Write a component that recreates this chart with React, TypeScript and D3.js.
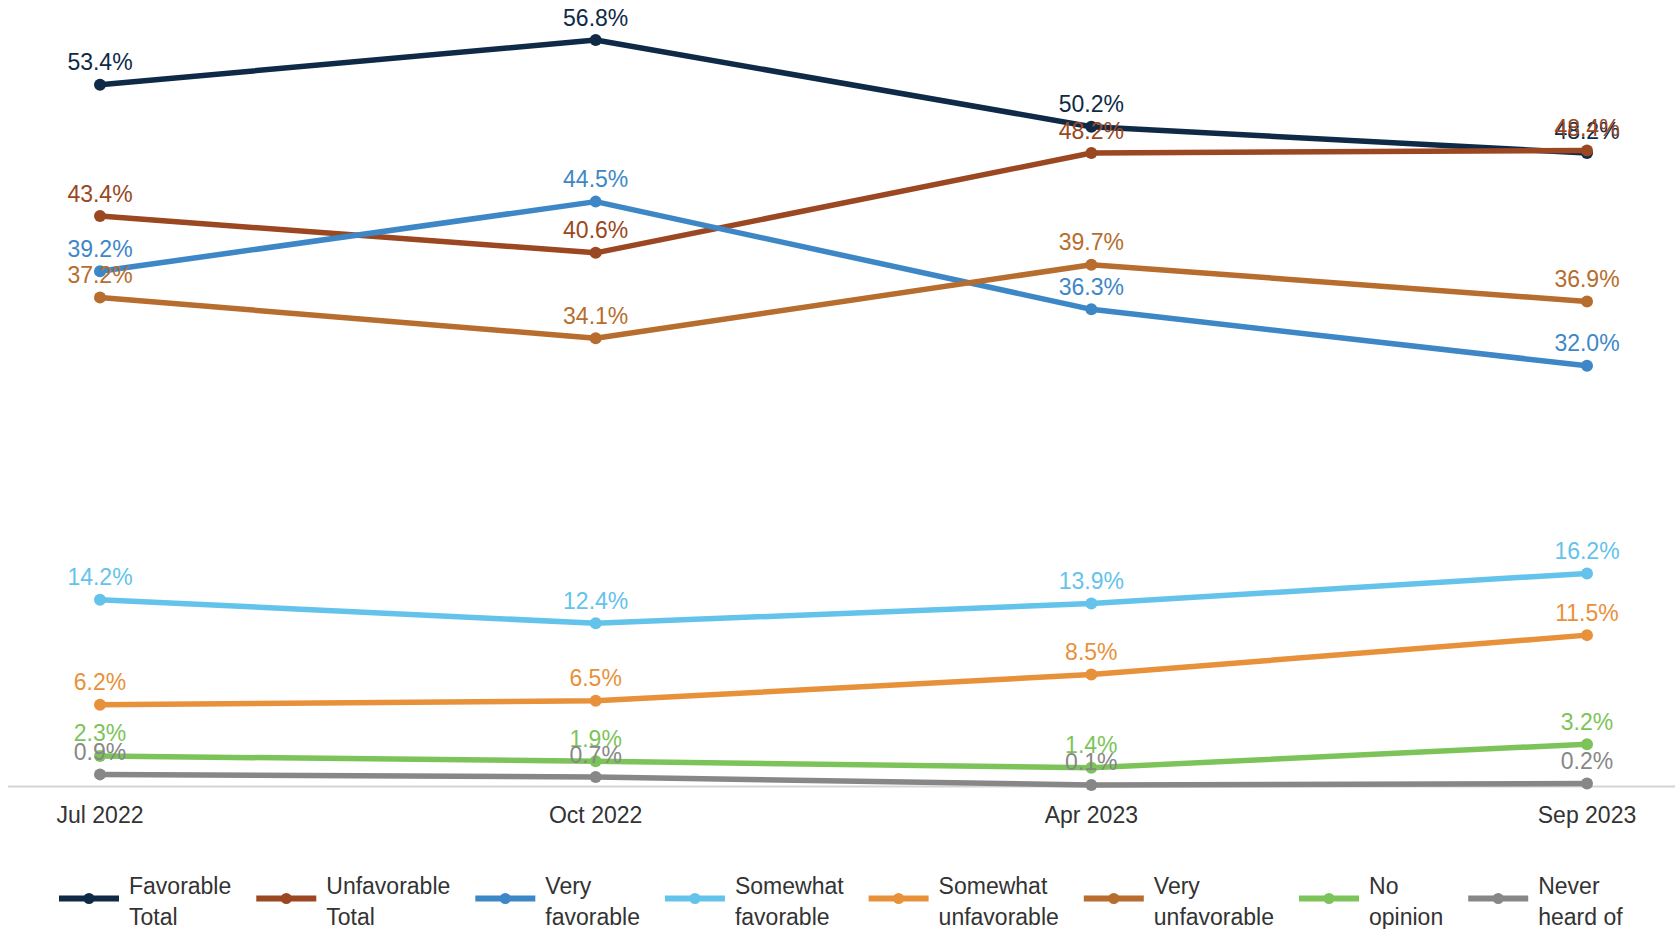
import React, { useEffect, useRef } from 'react';
import * as d3 from 'd3';

const categories = ['Jul 2022', 'Oct 2022', 'Apr 2023', 'Sep 2023'];

const favorableTotal = [53.4, 56.8, 50.2, 48.2];
const unfavorableTotal = [43.4, 40.6, 48.2, 48.4];
const veryFavorable = [39.2, 44.5, 36.3, 32.0];
const somewhatFavorable = [14.2, 12.4, 13.9, 16.2];
const somewhatUnfavorable = [6.2, 6.5, 8.5, 11.5];
const veryUnfavorable = [37.2, 34.1, 39.7, 36.9];
const noOpinion = [2.3, 1.9, 1.4, 3.2];
const neverHeardOf = [0.9, 0.7, 0.1, 0.2];

const seriesNames = [
  ['Favorable', 'Total'],
  ['Unfavorable', 'Total'],
  ['Very', 'favorable'],
  ['Somewhat', 'favorable'],
  ['Somewhat', 'unfavorable'],
  ['Very', 'unfavorable'],
  ['No', 'opinion'],
  ['Never', 'heard of'],
];

const seriesValues = [
  favorableTotal,
  unfavorableTotal,
  veryFavorable,
  somewhatFavorable,
  somewhatUnfavorable,
  veryUnfavorable,
  noOpinion,
  neverHeardOf,
];

const colors = [
  '#0e2a47', // navy
  '#9a4722', // rust
  '#3e87c7', // blue
  '#64c3eb', // light blue
  '#e8913b', // orange
  '#b66d2d', // brown orange
  '#7cc459', // green
  '#878787', // gray
];

const FONT = "'Liberation Sans', Arial, sans-serif";

export default function App() {
  const svgRef = useRef<SVGSVGElement>(null);

  useEffect(() => {
    if (!svgRef.current) return;
    const width = 1675;
    const height = 929;

    const svg = d3.select(svgRef.current);
    svg.selectAll('*').remove();
    svg.attr('width', width).attr('height', height);

    const x = d3.scalePoint<string>().domain(categories).range([100, 1587]);
    const y = d3.scaleLinear().domain([0, 60]).range([786.2, -2]);

    // baseline axis
    svg.append('line')
      .attr('x1', 8)
      .attr('x2', width)
      .attr('y1', 786.5)
      .attr('y2', 786.5)
      .attr('stroke', '#d4d4d4')
      .attr('stroke-width', 2);

    // x labels
    svg.append('g')
      .selectAll('text')
      .data(categories)
      .enter()
      .append('text')
      .attr('x', d => x(d) as number)
      .attr('y', 822.5)
      .attr('text-anchor', 'middle')
      .style('font-family', FONT)
      .style('font-size', '23px')
      .style('fill', '#333333')
      .text(d => d);

    const line = d3.line<number>()
      .x((_, i) => x(categories[i]) as number)
      .y(d => y(d));

    // lines and dots
    seriesValues.forEach((vals, s) => {
      const g = svg.append('g');
      g.append('path')
        .attr('d', line(vals))
        .attr('fill', 'none')
        .attr('stroke', colors[s])
        .attr('stroke-width', 5.5)
        .attr('stroke-linejoin', 'round')
        .attr('stroke-linecap', 'round');
      g.selectAll('circle')
        .data(vals)
        .enter()
        .append('circle')
        .attr('cx', (_, i) => x(categories[i]) as number)
        .attr('cy', d => y(d))
        .attr('r', 6)
        .attr('fill', colors[s]);
    });

    // value labels
    seriesValues.forEach((vals, s) => {
      svg.append('g')
        .selectAll('text')
        .data(vals)
        .enter()
        .append('text')
        .attr('x', (_, i) => x(categories[i]) as number)
        .attr('y', d => y(d) - 14.5)
        .attr('text-anchor', 'middle')
        .style('font-family', FONT)
        .style('font-size', '23px')
        .style('fill', colors[s])
        .text(d => `${d.toFixed(1)}%`);
    });

    // legend
    const legend = svg.append('g');
    let cursor = 59;
    seriesNames.forEach((lines, s) => {
      const item = legend.append('g').attr('transform', `translate(${cursor},0)`);
      item.append('line')
        .attr('x1', 0)
        .attr('x2', 60)
        .attr('y1', 898.5)
        .attr('y2', 898.5)
        .attr('stroke', colors[s])
        .attr('stroke-width', 6);
      item.append('circle')
        .attr('cx', 30)
        .attr('cy', 898.5)
        .attr('r', 5.5)
        .attr('fill', colors[s]);
      let maxW = 0;
      lines.forEach((t, li) => {
        const txt = item.append('text')
          .attr('x', 70)
          .attr('y', 893.5 + li * 31)
          .style('font-family', FONT)
          .style('font-size', '23px')
          .style('fill', '#333333')
          .text(t);
        const w = (txt.node() as SVGTextElement).getComputedTextLength();
        if (w > maxW) maxW = w;
      });
      cursor += 70 + maxW + 25;
    });
  }, []);

  return (
    <div style={{ position: 'absolute', left: 0, top: 0, background: '#ffffff' }}>
      <svg ref={svgRef}></svg>
    </div>
  );
}
